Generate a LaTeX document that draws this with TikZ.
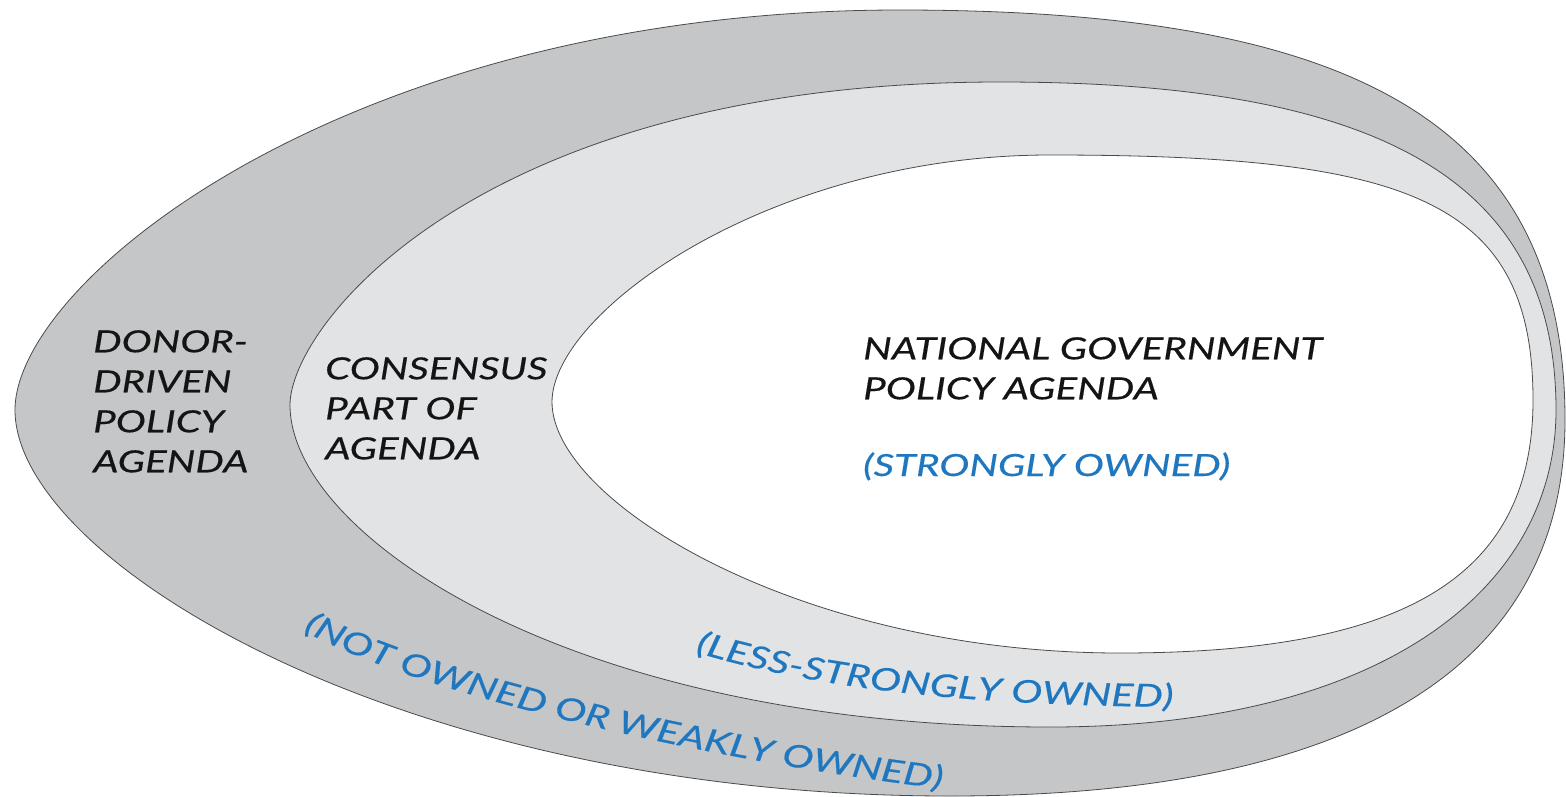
\documentclass[tikz,border=0pt]{standalone}
\usepackage{fontspec}
\setmainfont{Lato}[FakeStretch=1.32, FakeBold=0.4]
\usetikzlibrary{decorations.text}

\definecolor{outerfill}{HTML}{C5C6C8}
\definecolor{midfill}{HTML}{E2E3E5}
\definecolor{edgegray}{HTML}{4A4A4A}
\definecolor{ownblue}{HTML}{1F77BF}
\definecolor{ink}{HTML}{141414}

\newcommand\agendafont{\fontsize{30.5}{40}\selectfont\itshape}
\newcommand\bandfont{\fontsize{31.5}{40}\selectfont\itshape}

\tikzset{
  ring/.style={draw=edgegray, line width=0.8pt},
  agenda/.style={align=left, inner sep=0pt, anchor=north west, text=ink, font=\agendafont},
  owned/.style={inner sep=0pt, anchor=base west, text=ownblue, font=\agendafont},
  curvedlabel/.style={decorate, decoration={text along path, text align={left indent=0pt},
      text={|\bandfont\color{ownblue}|#1}}}
}

\begin{document}
\begin{tikzpicture}[x=1pt, y=-1pt]
\useasboundingbox (0,0) rectangle (1566,796);

% outer band: donor-driven agenda
\draw[ring, fill=outerfill]
  (15,410) .. controls (15,280) and (350,10) .. (900,10)
           .. controls (1350,10) and (1565,120) .. (1565,420)
           .. controls (1565,670) and (1350,796) .. (950,796)
           .. controls (400,796) and (15,560) .. cycle;

% middle band: consensus part of the agenda
\draw[ring, fill=midfill]
  (290,405) .. controls (290,325) and (480,82) .. (1000,82)
            .. controls (1380,82) and (1556,180) .. (1556,410)
            .. controls (1556,590) and (1380,727) .. (1050,727)
            .. controls (570,727) and (290,535) .. cycle;

% inner core: national government agenda
\draw[ring, fill=white]
  (552,402) .. controls (552,312) and (770,155) .. (1050,155)
            .. controls (1410,155) and (1533,200) .. (1533,400)
            .. controls (1533,580) and (1400,653) .. (1120,653)
            .. controls (800,653) and (552,502) .. cycle;

% labels
\node[agenda] (donor) at (93,330) {DONOR-\\DRIVEN\\POLICY\\AGENDA};
\node[agenda] (consensus) at (325,357) {CONSENSUS\\PART OF\\AGENDA};
\node[agenda] (national) at (863,337) {NATIONAL GOVERNMENT\\POLICY AGENDA};
\node[owned] (strong) at (863,476) {(STRONGLY OWNED)};

% ownership labels following the bands
\path[curvedlabel={(LESS-STRONGLY OWNED)}]
  (695,652) .. controls (820,690) and (980,708) .. (1230,707);
\path[curvedlabel={(NOT OWNED OR WEAKLY OWNED)}]
  (303,630) .. controls (420,698) and (760,772) .. (1000,795);
\end{tikzpicture}
\end{document}
